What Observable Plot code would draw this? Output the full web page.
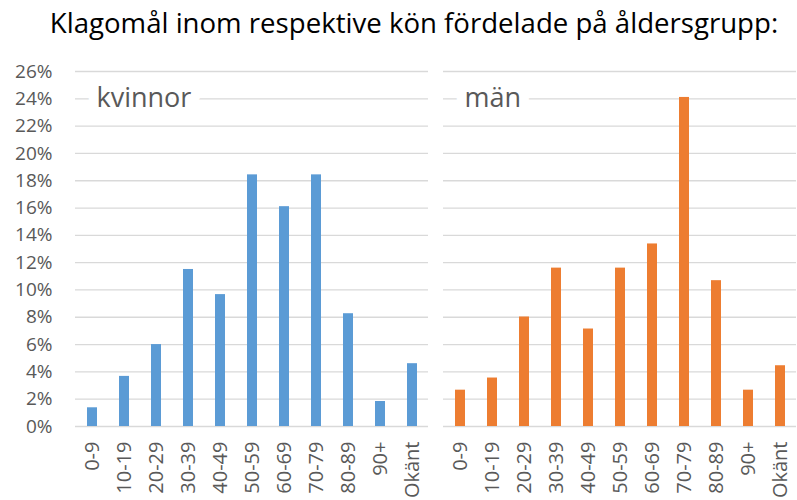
<!DOCTYPE html>
<html>
<head>
<meta charset="utf-8">
<script src="https://cdn.jsdelivr.net/npm/d3@7"></script>
<script src="https://cdn.jsdelivr.net/npm/@observablehq/plot@0.6"></script>
<style>
  html, body { margin: 0; padding: 0; background: #fff; }
  #wrap { position: relative; width: 797px; height: 500px; overflow: hidden; }
  #title { position: absolute; left: 0; width: 828px; top: 3px; text-align: center;
    font-family: "Open Sans", sans-serif; font-size: 27.6px; color: #000; white-space: nowrap; }
  #chart { position: absolute; left: 0; top: 0; }
</style>
</head>
<body>
<div id="wrap">
  <div id="chart"></div>
  <div id="title">Klagomål inom respektive kön fördelade på åldersgrupp:</div>
</div>
<script>
const categories = ["0-9","10-19","20-29","30-39","40-49","50-59","60-69","70-79","80-89","90+","Okänt"];
const genders = ["kvinnor", "män"];
const kvinnor = [1.37, 3.67, 6.0, 11.5, 9.66, 18.43, 16.1, 18.43, 8.26, 1.83, 4.6];
const man = [2.66, 3.55, 8.02, 11.6, 7.14, 11.6, 13.37, 24.1, 10.68, 2.66, 4.45];
const yTicks = [0,2,4,6,8,10,12,14,16,18,20,22,24,26];
const colors = ["#5B9BD5", "#ED7D31"];

const seriesValues = [kvinnor, man];
const rows = [];
genders.forEach((g, gi) => categories.forEach((c, ci) => rows.push({gender: g, category: c, value: seriesValues[gi][ci]})));

const chart = Plot.plot({
  width: 797,
  height: 500,
  marginTop: 71,
  marginBottom: 74,
  marginLeft: 75,
  marginRight: 1,
  style: {fontFamily: "Open Sans, sans-serif", color: "#595959", background: "white"},
  fx: {domain: genders, paddingInner: 0.0408, paddingOuter: 0, axis: null},
  x: {domain: categories, paddingInner: 0.69, paddingOuter: 0.345},
  y: {domain: [0, 26]},
  color: {domain: genders, range: colors},
  marks: [
    Plot.gridY(yTicks, {stroke: "#d9d9d9", strokeOpacity: 1, strokeWidth: 1.3}),
    Plot.barY(rows, {fx: "gender", x: "category", y: "value", fill: "gender"}),
    Plot.axisY(yTicks, {tickSize: 0, tickPadding: 23, fontSize: 19, tickFormat: d => d + "%", label: null}),
    Plot.axisX({tickSize: 0, tickPadding: 15, tickRotate: -90, fontSize: 20, label: null}),
    Plot.text(genders, {fx: d => d, y: () => 24, text: d => d, frameAnchor: "left", textAnchor: "start",
      dx: 21, fontSize: 27, fill: "#595959", stroke: "white", strokeWidth: 20})
  ]
});
document.getElementById("chart").appendChild(chart);
</script>
</body>
</html>
